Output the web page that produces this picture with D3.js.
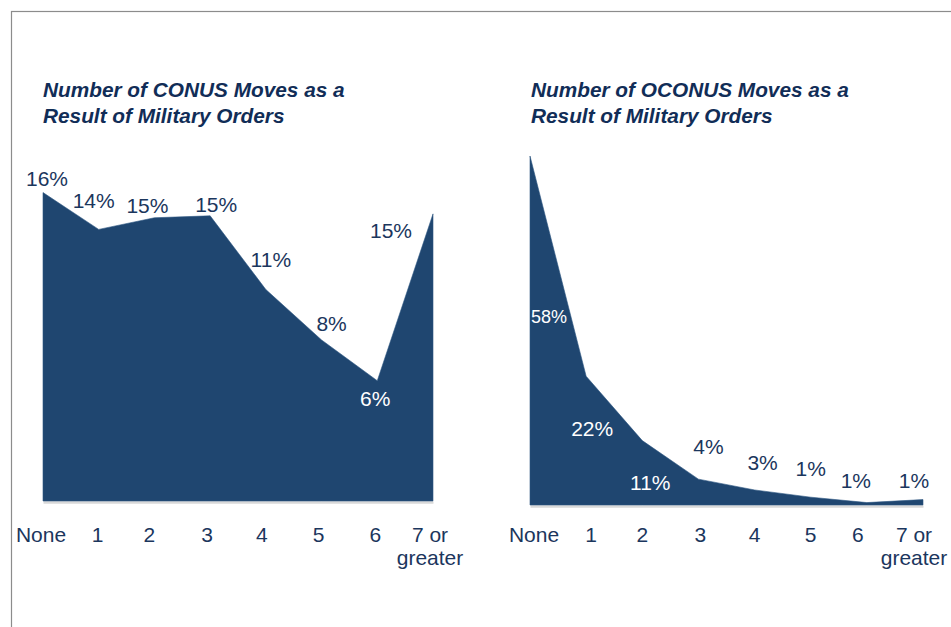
<!DOCTYPE html>
<html>
<head>
<meta charset="utf-8">
<script src="https://cdn.jsdelivr.net/npm/d3@7"></script>
<style>
  body { margin: 0; background: #fff; }
  svg { display: block; font-family: "Liberation Sans", Arial, sans-serif; }
</style>
</head>
<body>
<div id="chart"></div>
<script>
// Data
const categories = ['None', '1', '2', '3', '4', '5', '6', '7 or greater'];
const conusValues = [15.9, 14.0, 14.6, 14.7, 10.9, 8.3, 6.2, 14.8];
const conusLabels = ['16%', '14%', '15%', '15%', '11%', '8%', '6%', '15%'];
const oconusValues = [58, 21.4, 10.7, 4.3, 2.5, 1.3, 0.4, 0.9];
const oconusLabels = ['58%', '22%', '11%', '4%', '3%', '1%', '1%', '1%'];

const FILL = '#1f4670';
const TEXT = '#1b365d';

const width = 951, height = 627;

const svg = d3.select('#chart')
    .append('svg')
    .attr('width', width)
    .attr('height', height);

// Frame (runs off the right and bottom edges)
svg.append('rect')
    .attr('x', 11.5)
    .attr('y', 11.5)
    .attr('width', 1000)
    .attr('height', 700)
    .attr('fill', 'none')
    .attr('stroke', '#8c8c8c')
    .attr('stroke-width', 1.2);

// Panel settings: label offsets are hand-placed like the original
const panels = [
    {
        title: ['Number of CONUS Moves as a', 'Result of Military Orders'],
        titleX: 43,
        values: conusValues,
        labels: conusLabels,
        xRange: [43, 433],
        base: 501,
        yMax: 16, yTop: 190.6,
        offsets: [[4, -7], [-5, -21], [-7, -5], [6, -4], [5, -23], [10, -9], [-2, 25], [-42, 24]],
        inside: [false, false, false, false, false, false, true, false],
        labelSize: [21, 21, 21, 21, 21, 21, 21, 21],
        tickShift: [-2, -1, -5, -3, -4, -3, -2, -3]
    },
    {
        title: ['Number of OCONUS Moves as a', 'Result of Military Orders'],
        titleX: 531,
        values: oconusValues,
        labels: oconusLabels,
        xRange: [530, 923],
        base: 505,
        yMax: 58, yTop: 156,
        offsets: [[19, 167], [6, 60], [8, 49], [10, -25], [8, -20], [0, -21], [-11, -15], [-9, -12]],
        inside: [true, true, true, false, false, false, false, false],
        labelSize: [18, 21, 21, 21, 21, 21, 21, 21],
        tickShift: [4, 5, 0, 2, 0, 0, -9, -9]
    }
];

panels.forEach(p => {
    const g = svg.append('g');

    const x = d3.scalePoint().domain(categories).range(p.xRange);
    const y = d3.scaleLinear().domain([0, p.yMax]).range([p.base, p.yTop]);

    // Title
    const title = g.append('text')
        .attr('x', p.titleX)
        .attr('y', 97)
        .attr('fill', '#112d57')
        .attr('font-size', 20.8)
        .attr('font-weight', 'bold')
        .attr('font-style', 'italic');
    p.title.forEach((line, i) => {
        title.append('tspan')
            .attr('x', p.titleX)
            .attr('dy', i === 0 ? 0 : 26)
            .text(line);
    });

    // Area
    const area = d3.area()
        .x((d, i) => x(categories[i]))
        .y0(y(0))
        .y1(d => y(d));

    // Baseline axis
    const axis = d3.axisBottom(x).tickSize(0).tickPadding(0).tickSizeOuter(0);
    const ax = g.append('g')
        .attr('transform', `translate(0,${p.base + 1})`)
        .call(axis);
    ax.select('.domain')
        .attr('stroke', '#d9d9d9')
        .attr('stroke-width', 2.5);
    ax.selectAll('.tick text')
        .attr('fill', TEXT)
        .attr('font-size', 21)
        .attr('font-family', '"Liberation Sans", Arial, sans-serif')
        .attr('y', 541.5 - p.base - 1)
        .attr('dy', 0)
        .each(function(d) {
            const t = d3.select(this);
            if (d.startsWith('7 or')) {
                t.text(null);
                t.append('tspan').attr('x', 0).attr('dy', 0).text('7 or');
                t.append('tspan').attr('x', 0).attr('dy', 23.5).text('greater');
            }
        });
    ax.selectAll('.tick').attr('transform', (d, i) => `translate(${x(d) + p.tickShift[i]},0)`);

    g.append('path')
        .datum(p.values)
        .attr('d', area)
        .attr('fill', FILL)
        .attr('stroke', '#2b5582')
        .attr('stroke-width', 0.6);

    // Data labels
    g.selectAll('.label')
        .data(p.values)
        .enter()
        .append('text')
        .attr('class', 'label')
        .attr('x', (d, i) => x(categories[i]) + p.offsets[i][0])
        .attr('y', (d, i) => y(d) + p.offsets[i][1])
        .attr('text-anchor', 'middle')
        .attr('font-size', (d, i) => p.labelSize[i])
        .attr('fill', (d, i) => p.inside[i] ? '#fff' : TEXT)
        .text((d, i) => p.labels[i]);
});
</script>
</body>
</html>
